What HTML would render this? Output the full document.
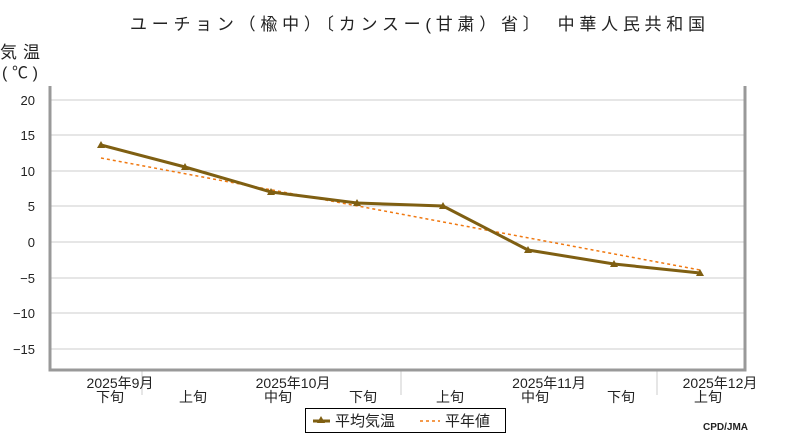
<!DOCTYPE html>
<html><head><meta charset="utf-8"><style>
body{margin:0;background:#fff;}
svg text{font-family:"Liberation Sans","Noto Sans CJK JP",sans-serif;}
</style></head><body>
<svg width="800" height="440" xmlns="http://www.w3.org/2000/svg">
<rect width="800" height="440" fill="#fff"/>
<text x="130" y="30" font-size="17" textLength="575" lengthAdjust="spacing" fill="#222">ユーチョン（楡中）〔カンスー(甘粛）省〕　中華人民共和国</text>
<text x="0" y="58" font-size="17" textLength="40" fill="#222">気温</text>
<text x="2" y="78" font-size="16" textLength="36" fill="#222">(℃)</text>
<g stroke="#ccc" stroke-width="1">
<line x1="50" y1="100" x2="745" y2="100"/><line x1="50" y1="135" x2="745" y2="135"/>
<line x1="50" y1="171" x2="745" y2="171"/><line x1="50" y1="206" x2="745" y2="206"/>
<line x1="50" y1="242" x2="745" y2="242"/><line x1="50" y1="278" x2="745" y2="278"/>
<line x1="50" y1="313" x2="745" y2="313"/><line x1="50" y1="349" x2="745" y2="349"/>
<line x1="142" y1="371" x2="142" y2="395"/><line x1="401" y1="371" x2="401" y2="395"/><line x1="657" y1="371" x2="657" y2="395"/>
</g>
<g font-size="13" fill="#222" text-anchor="end">
<text x="35" y="105">20</text><text x="35" y="140">15</text><text x="35" y="176">10</text><text x="35" y="211">5</text>
<text x="35" y="247">0</text><text x="35" y="283">−5</text><text x="35" y="318">−10</text><text x="35" y="354">−15</text>
</g>
<polyline points="50,86 50,370 745,370 745,86" fill="none" stroke="#999" stroke-width="3"/>
<line x1="101" y1="158" x2="700" y2="270" stroke="#f07810" stroke-width="1.5" stroke-dasharray="3,3"/>
<polyline points="101,145 185,167 271,192 357,203 443,206 528,250 614,264 700,273" fill="none" stroke="#7f5f12" stroke-width="3"/>
<g fill="#7f5f12">
<path d="M101,141 l4,7 h-8z"/><path d="M185,163 l4,7 h-8z"/><path d="M271,188 l4,7 h-8z"/><path d="M357,199 l4,7 h-8z"/>
<path d="M443,202 l4,7 h-8z"/><path d="M528,246 l4,7 h-8z"/><path d="M614,260 l4,7 h-8z"/><path d="M700,269 l4,7 h-8z"/>
</g>
<g font-size="14" fill="#222" text-anchor="middle">
<text x="120" y="388">2025年9月</text><text x="110" y="402">下旬</text>
<text x="193" y="402">上旬</text>
<text x="293" y="388">2025年10月</text><text x="278" y="402">中旬</text>
<text x="363" y="402">下旬</text><text x="450" y="402">上旬</text>
<text x="549" y="388">2025年11月</text><text x="535" y="402">中旬</text>
<text x="621" y="402">下旬</text>
<text x="720" y="388">2025年12月</text><text x="708" y="402">上旬</text>
</g>
<rect x="305.5" y="408.5" width="200" height="24" fill="#fff" stroke="#000"/>
<line x1="313" y1="421" x2="330" y2="421" stroke="#7f5f12" stroke-width="3"/>
<path d="M321,416 l4,7 h-8z" fill="#7f5f12"/>
<text x="335" y="426" font-size="15" fill="#222">平均気温</text>
<line x1="420" y1="421" x2="440" y2="421" stroke="#f07810" stroke-width="1.5" stroke-dasharray="3,3"/>
<text x="445" y="426" font-size="15" fill="#222">平年値</text>
<text x="748" y="430" font-size="10" font-weight="bold" fill="#222" text-anchor="end">CPD/JMA</text>
</svg>
</body></html>
